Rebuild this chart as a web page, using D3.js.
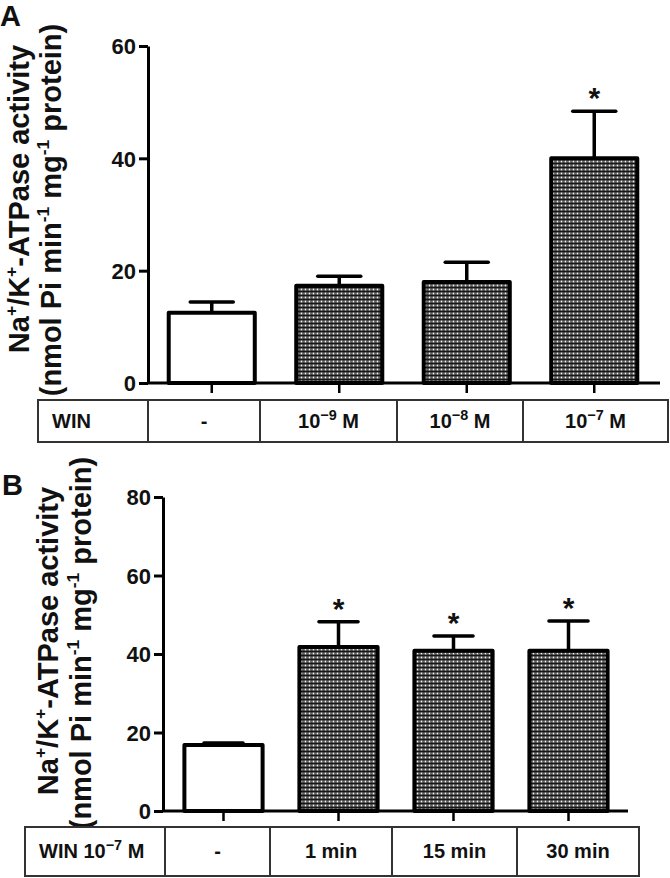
<!DOCTYPE html>
<html>
<head>
<meta charset="utf-8">
<script src="https://cdn.jsdelivr.net/npm/d3@7"></script>
<style>
  html, body { margin: 0; padding: 0; background: #fff; }
  svg { display: block; }
  text { font-family: "Liberation Sans", Arial, Helvetica, sans-serif; font-weight: bold; fill: #111; }
</style>
</head>
<body>
<svg id="chart" width="670" height="878"></svg>
<script>
// ---- data ----
// panel A: WIN concentration
const groupsA = ["control", "1e-9", "1e-8", "1e-7"];
const meanA = [12.5, 17.3, 18.0, 40.0];
const semA = [1.9, 1.7, 3.5, 8.4];
const starA = [false, false, false, true];
const ticksA = [0, 20, 40, 60];
const tableA = ["WIN", "-", "10^−9^ M", "10^−8^ M", "10^−7^ M"];

// panel B: WIN 10^-7 M, time course
const groupsB = ["control", "1min", "15min", "30min"];
const meanB = [16.8, 41.8, 40.8, 40.8];
const semB = [0.5, 6.4, 3.8, 7.6];
const starB = [false, true, true, true];
const ticksB = [0, 20, 40, 60, 80];
const tableB = ["WIN 10^−7^ M", "-", "1 min", "15 min", "30 min"];

const yTitle = ["Na^+^/K^+^-ATPase activity", "(nmol Pi min^-1^ mg^-1^ protein)"];

const svg = d3.select("#chart");

// pattern used for the WIN bars
const defs = svg.append("defs");
const pat = defs.append("pattern")
    .attr("id", "dots")
    .attr("patternUnits", "userSpaceOnUse")
    .attr("width", 4)
    .attr("height", 4);
pat.append("rect").attr("width", 4).attr("height", 4).attr("fill", "#161616");
pat.append("rect").attr("x", 0.5).attr("y", 0.5).attr("width", 2).attr("height", 2).attr("fill", "#f4f4f4");
pat.append("rect").attr("x", 2.5).attr("y", 0.5).attr("width", 1.5).attr("height", 2).attr("fill", "#6a6a6a");

// writes "a^sup^b" strings as tspans
function rich(textSel, str, fs, supK) {
    const k = supK || 0.64;
    const parts = str.split("^");
    parts.forEach((p, i) => {
        const t = textSel.append("tspan").text(p);
        if (i % 2 === 1) {
            t.attr("font-size", fs * k).attr("dy", -fs * 0.42);
        } else if (i > 0) {
            t.attr("dy", fs * 0.42);
        }
    });
}

function drawPanel(cfg) {
    const g = svg.append("g");

    const x = d3.scaleBand()
        .domain(cfg.groups)
        .range(cfg.xRange)
        .paddingInner(cfg.pad)
        .paddingOuter(cfg.pad / 2);

    const y = d3.scaleLinear()
        .domain([0, d3.max(cfg.ticks)])
        .range([cfg.y0, cfg.y1]);

    const rows = cfg.groups.map((k, i) => ({
        key: k, mean: cfg.mean[i], sem: cfg.sem[i], star: cfg.star[i], i
    }));

    // error bars (upper only)
    const capW = x.bandwidth() * 0.5;
    const err = g.append("g").attr("stroke", "#000").attr("stroke-width", 3.5);
    err.selectAll("line.v")
        .data(rows)
        .enter()
        .append("line")
        .attr("class", "v")
        .attr("x1", d => x(d.key) + x.bandwidth() / 2)
        .attr("x2", d => x(d.key) + x.bandwidth() / 2)
        .attr("y1", d => y(d.mean))
        .attr("y2", d => y(d.mean + d.sem));
    err.selectAll("line.cap")
        .data(rows)
        .enter()
        .append("line")
        .attr("class", "cap")
        .attr("stroke-linecap", "round")
        .attr("x1", d => x(d.key) + x.bandwidth() / 2 - capW / 2)
        .attr("x2", d => x(d.key) + x.bandwidth() / 2 + capW / 2)
        .attr("y1", d => y(d.mean + d.sem))
        .attr("y2", d => y(d.mean + d.sem));

    // bars
    g.append("g")
        .selectAll("rect")
        .data(rows)
        .enter()
        .append("rect")
        .attr("x", d => x(d.key))
        .attr("y", d => y(d.mean))
        .attr("width", x.bandwidth())
        .attr("height", d => y(0) - y(d.mean))
        .attr("fill", d => d.i === 0 ? "#fff" : "url(#dots)")
        .attr("stroke", "#000")
        .attr("stroke-width", 4)
        .attr("stroke-linejoin", "round");

    // asterisks
    g.append("g")
        .selectAll("text")
        .data(rows.filter(d => d.star))
        .enter()
        .append("text")
        .attr("x", d => x(d.key) + x.bandwidth() / 2)
        .attr("y", d => y(d.mean + d.sem) - 3)
        .attr("text-anchor", "middle")
        .attr("font-size", 30)
        .text("*");

    // y axis
    const yAxis = g.append("g")
        .attr("transform", `translate(${cfg.axisX},0)`)
        .call(d3.axisLeft(y).tickValues(cfg.ticks).tickSize(9).tickSizeOuter(0).tickPadding(3));
    yAxis.attr("font-family", null).attr("font-size", null);
    yAxis.select(".domain").attr("stroke", "#000").attr("stroke-width", 3);
    yAxis.selectAll(".tick line").attr("stroke", "#000").attr("stroke-width", 3);
    yAxis.selectAll(".tick text")
        .attr("font-size", 22)
        .attr("fill", "#111")
        .attr("dy", "0.36em");

    // x axis line and ticks
    g.append("line")
        .attr("x1", cfg.axisX)
        .attr("x2", cfg.xRange[1] + 2)
        .attr("y1", y(0))
        .attr("y2", y(0))
        .attr("stroke", "#000")
        .attr("stroke-width", 3);
    g.append("g")
        .selectAll("line")
        .data(rows)
        .enter()
        .append("line")
        .attr("x1", d => x(d.key) + x.bandwidth() / 2)
        .attr("x2", d => x(d.key) + x.bandwidth() / 2)
        .attr("y1", y(0))
        .attr("y2", y(0) + 10)
        .attr("stroke", "#000")
        .attr("stroke-width", 2.5);

    // y title, two rotated lines
    cfg.titleX.forEach((tx, i) => {
        const t = g.append("text")
            .attr("transform", `translate(${tx},${cfg.titleY[i]}) rotate(-90)`)
            .attr("text-anchor", "middle")
            .attr("font-size", cfg.titleFs);
        rich(t, yTitle[i], cfg.titleFs, 0.6);
    });

    // panel letter
    g.append("text")
        .attr("x", cfg.letterX)
        .attr("y", cfg.letterY)
        .attr("font-size", 29)
        .text(cfg.letter);

    // table under the axis
    const cols = cfg.tableCols;
    const tb = g.append("g");
    tb.append("rect")
        .attr("x", cols[0])
        .attr("y", cfg.tableTop)
        .attr("width", cols[cols.length - 1] - cols[0])
        .attr("height", cfg.tableBottom - cfg.tableTop)
        .attr("fill", "#fff")
        .attr("stroke", "#333")
        .attr("stroke-width", 2);
    tb.selectAll("line")
        .data(cols.slice(1, -1))
        .enter()
        .append("line")
        .attr("x1", d => d)
        .attr("x2", d => d)
        .attr("y1", cfg.tableTop)
        .attr("y2", cfg.tableBottom)
        .attr("stroke", "#333")
        .attr("stroke-width", 2);
    cfg.table.forEach((lab, i) => {
        const t = tb.append("text")
            .attr("font-size", cfg.tableFs)
            .attr("y", cfg.tableBase);
        if (i === 0) {
            t.attr("x", cols[0] + cfg.firstPad).attr("text-anchor", "start");
        } else {
            t.attr("x", (cols[i] + cols[i + 1]) / 2).attr("text-anchor", "middle");
        }
        rich(t, lab, cfg.tableFs, 0.72);
    });
}

drawPanel({
    letter: "A", letterX: 0, letterY: 26,
    groups: groupsA, mean: meanA, sem: semA, star: starA, ticks: ticksA, table: tableA,
    xRange: [148, 658], pad: 0.325, y0: 383, y1: 46, axisX: 148,
    titleX: [29, 61], titleY: [199, 210], titleFs: 29,
    tableCols: [38, 148, 260, 397, 523, 668], tableTop: 400, tableBottom: 442,
    tableBase: 428, tableFs: 20, firstPad: 14
});

drawPanel({
    letter: "B", letterX: 2, letterY: 495,
    groups: groupsB, mean: meanB, sem: semB, star: starB, ticks: ticksB, table: tableB,
    xRange: [166, 626], pad: 0.32, y0: 811, y1: 497, axisX: 163,
    titleX: [58, 91], titleY: [641, 643], titleFs: 29,
    tableCols: [25, 165, 270, 392, 517, 639], tableTop: 827, tableBottom: 876,
    tableBase: 858, tableFs: 20, firstPad: 14
});
</script>
</body>
</html>
